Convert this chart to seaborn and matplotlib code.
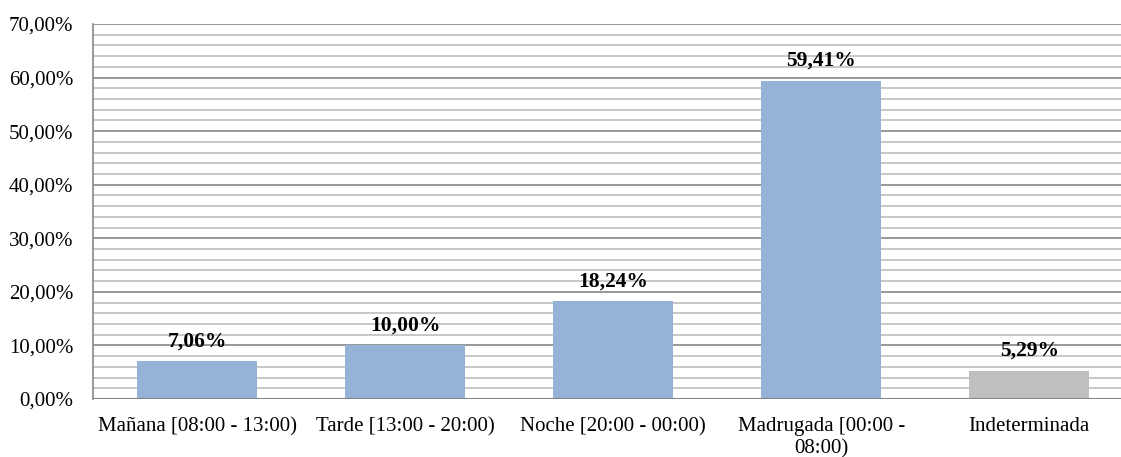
import pandas as pd
import seaborn as sns
import matplotlib.pyplot as plt
from matplotlib.ticker import MultipleLocator, FuncFormatter

# Data
categories = ["Mañana [08:00 - 13:00)", "Tarde [13:00 - 20:00)", "Noche [20:00 - 00:00)",
              "Madrugada [00:00 -\n08:00)", "Indeterminada"]
values = [7.06, 10.00, 18.24, 59.41, 5.29]
bar_colors = ["#95b3d7", "#95b3d7", "#95b3d7", "#95b3d7", "#bfbfbf"]

df = pd.DataFrame({"franja": categories, "pct": values})

sns.set_style("white")
plt.rcParams["font.family"] = ["Liberation Serif", "DejaVu Serif"]
plt.rcParams["text.color"] = "black"
plt.rcParams["xtick.color"] = "black"
plt.rcParams["ytick.color"] = "black"

fig = plt.figure(figsize=(11.21, 4.57), dpi=100)
ax = fig.add_axes([0.083, 0.127, 0.928, 0.8205])

sns.barplot(data=df, x="franja", y="pct", hue="franja", palette=bar_colors,
            width=0.575, legend=False, ax=ax, saturation=1, linewidth=0)

ax.set_ylim(0, 70)
ax.yaxis.set_major_locator(MultipleLocator(10))
ax.yaxis.set_minor_locator(MultipleLocator(2))
ax.yaxis.set_major_formatter(FuncFormatter(lambda v, p: f"{v:.2f}".replace(".", ",") + "%"))
ax.grid(axis="y", which="minor", color="#bfbfbf", linewidth=1.2)
ax.grid(axis="y", which="major", color="#868686", linewidth=1.2)
ax.set_axisbelow(True)

for s in ["top", "right", "bottom"]:
    ax.spines[s].set_visible(False)
ax.spines["left"].set_color("#868686")
ax.spines["left"].set_linewidth(1.2)
ax.axhline(0, color="#868686", linewidth=1.5, zorder=3)

ax.tick_params(axis="y", which="both", length=0, labelsize=15, pad=14)
ax.tick_params(axis="x", length=0, labelsize=15, pad=13)
ax.set_xlabel("")
ax.set_ylabel("")

# data labels above each bar
for i, v in enumerate(values):
    ax.text(i, v + 1.8, f"{v:.2f}".replace(".", ",") + "%", ha="center", va="bottom",
            fontsize=15.5, fontweight="bold")

fig.savefig("out.png", dpi=100)
